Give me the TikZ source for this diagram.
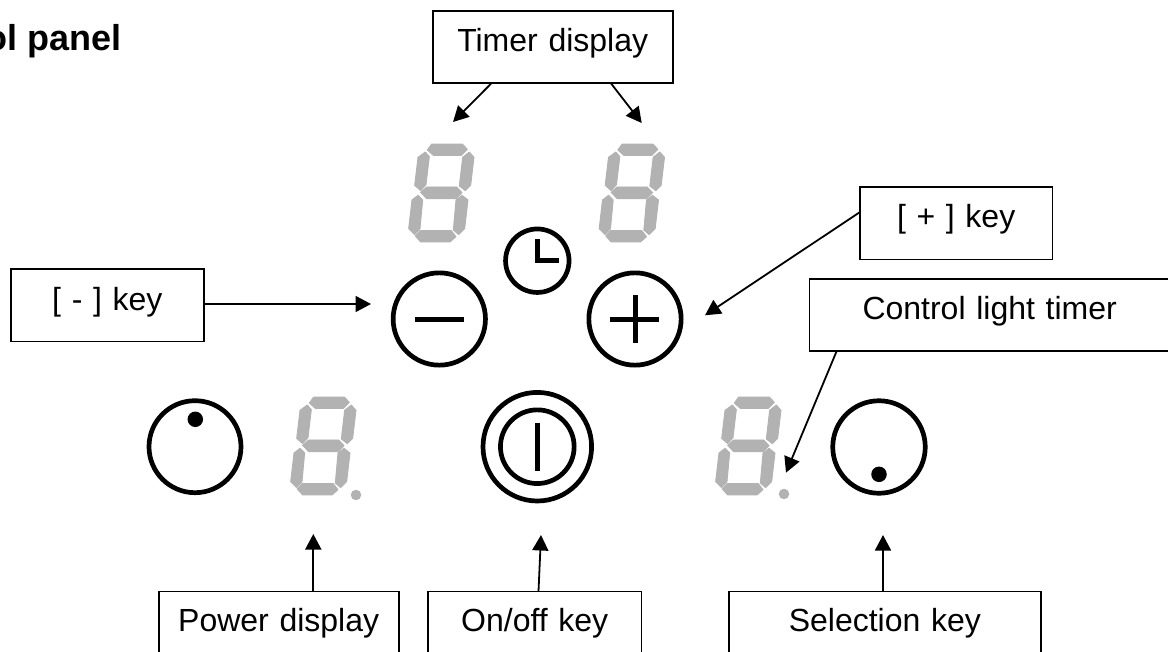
\documentclass[tikz,border=0pt]{standalone}
\usepackage{fontspec}
\setmainfont{Liberation Sans}
\usetikzlibrary{arrows.meta}
\definecolor{segcol}{RGB}{178,178,178}
\tikzset{
 x=1pt,y=-1pt,
 labelbox/.style={draw=black,line width=1.6pt,fill=white,inner sep=0pt,outer sep=0pt,anchor=north west,align=center,font=\fontsize{32}{36}\selectfont},
 pointer/.style={draw=black,line width=1.8pt,-{Triangle[length=15.5pt,width=16pt]}},
 seg/.style={fill=segcol,draw=segcol,line width=0.9pt,line join=round},
 ring/.style={circle,draw=black,line width=4.7pt,fill=none,inner sep=0pt},
 glyph/.style={draw=black,line width=5pt},
 pip/.style={circle,fill=black,inner sep=0pt,minimum size=15.5pt},
 segdot/.style={circle,fill=segcol,inner sep=0pt,minimum size=10.5pt},
}
\newcommand{\sevenseg}[2]{%
 \begin{scope}[shift={(#1,#2)},x=0.3333pt,y=-0.3333pt]
 \fill[seg] (112,90)--(125,72)--(217,72)--(232,88)--(214,106)--(130,106)--cycle;
 \fill[seg] (106,96)--(118,110)--(108,194)--(92,212)--(74,196)--(84,112)--cycle;
 \fill[seg] (238,96)--(252,112)--(242,196)--(226,212)--(208,198)--(218,112)--cycle;
 \fill[seg] (92,217)--(110,201)--(200,201)--(216,218)--(198,236)--(110,236)--cycle;
 \fill[seg] (84,226)--(98,240)--(90,326)--(74,344)--(56,326)--(66,240)--cycle;
 \fill[seg] (216,226)--(234,240)--(224,326)--(206,344)--(190,330)--(198,240)--cycle;
 \fill[seg] (76,348)--(90,332)--(184,332)--(198,350)--(180,366)--(92,366)--cycle;
 \end{scope}}
\begin{document}
\begin{tikzpicture}
\useasboundingbox (0,0) rectangle (1168,651);
\fill[white] (0,0) rectangle (1168,651);
\clip (0,0) rectangle (1168,651);
\node[anchor=base east,inner sep=0pt,font=\bfseries\fontsize{36}{40}\selectfont] (title) at (121.5,50) {ol panel};
% digits
\sevenseg{390}{120}
\sevenseg{580.5}{120}
\sevenseg{272}{373}
\sevenseg{697}{373}
\node[segdot] (dotP) at (356,495) {};
\node[segdot] (dotS) at (784,494) {};
% keys
\node[ring,minimum size=63.5pt] (clock) at (537.3,260.7) {};
\draw[glyph] (537.3,239.3)--(537.3,260.7)--(559.3,260.7);
\node[ring,minimum size=92.3pt] (minus) at (439.3,319) {};
\draw[glyph] (415,319.3)--(464,319.3);
\node[ring,minimum size=92.3pt] (plus) at (635,319) {};
\draw[glyph] (610,319.3)--(659.3,319.3);
\draw[glyph] (635,295)--(635,343.3);
\node[ring,minimum size=92pt] (power) at (195,446.7) {};
\node[pip] (powdot) at (195.3,419.3) {};
\node[ring,minimum size=92.5pt] (sel) at (879,447) {};
\node[pip] (seldot) at (879,474.3) {};
\node[ring,minimum size=108.6pt] (onoff) at (537.3,446.7) {};
\node[ring,minimum size=73.7pt] (onoffi) at (537.3,446.7) {};
\draw[glyph] (537.3,422.7)--(537.3,471.3);
% boxes
\node[labelbox,text width=240pt,text height=40.7pt,text depth=31.3pt] (timer) at (432.7,11) {Timer display};
\node[labelbox,text width=192.3pt,text height=40.3pt,text depth=32.3pt] (plusbox) at (860,186.7) {[ + ] key};
\node[labelbox,text width=192.7pt,text height=41pt,text depth=31.3pt] (minusbox) at (11,269) {[ - ] key};
\node[labelbox,text width=360.7pt,text height=40.3pt,text depth=31.7pt] (ctl) at (809.3,279) {Control light timer};
\node[labelbox,text width=240pt,text height=40.4pt,text depth=40pt] (pd) at (158.7,591.3) {Power display};
\node[labelbox,text width=213.4pt,text height=40.4pt,text depth=40pt] (oo) at (428,591.3) {On/off key};
\node[labelbox,text width=312.3pt,text height=40.4pt,text depth=40pt] (sk) at (728.7,591.3) {Selection key};
% connectors
\coordinate (a1) at (453,122); \coordinate (a1s) at (491.7,83);
\coordinate (a2) at (641.7,123); \coordinate (a2s) at (610.7,83);
\draw[pointer] (a1s |- timer.south)--(a1);
\draw[pointer] (a2s |- timer.south)--(a2);
\coordinate (a3) at (705,315.3); \coordinate (a3s) at (860,212);
\draw[pointer] (plusbox.west |- a3s)--(a3);
\coordinate (a4) at (371,304);
\draw[pointer] (minusbox.east |- a4)--(a4);
\coordinate (a5) at (786,472.7); \coordinate (a5s) at (836.7,351);
\draw[pointer] (a5s |- ctl.south)--(a5);
\coordinate (a6) at (313.3,534);
\draw[pointer] (a6 |- pd.north)--(a6);
\coordinate (a7) at (541,535); \coordinate (a7s) at (538.5,591);
\draw[pointer] (a7s |- oo.north)--(a7);
\coordinate (a8) at (883,535);
\draw[pointer] (a8 |- sk.north)--(a8);
\end{tikzpicture}
\end{document}
